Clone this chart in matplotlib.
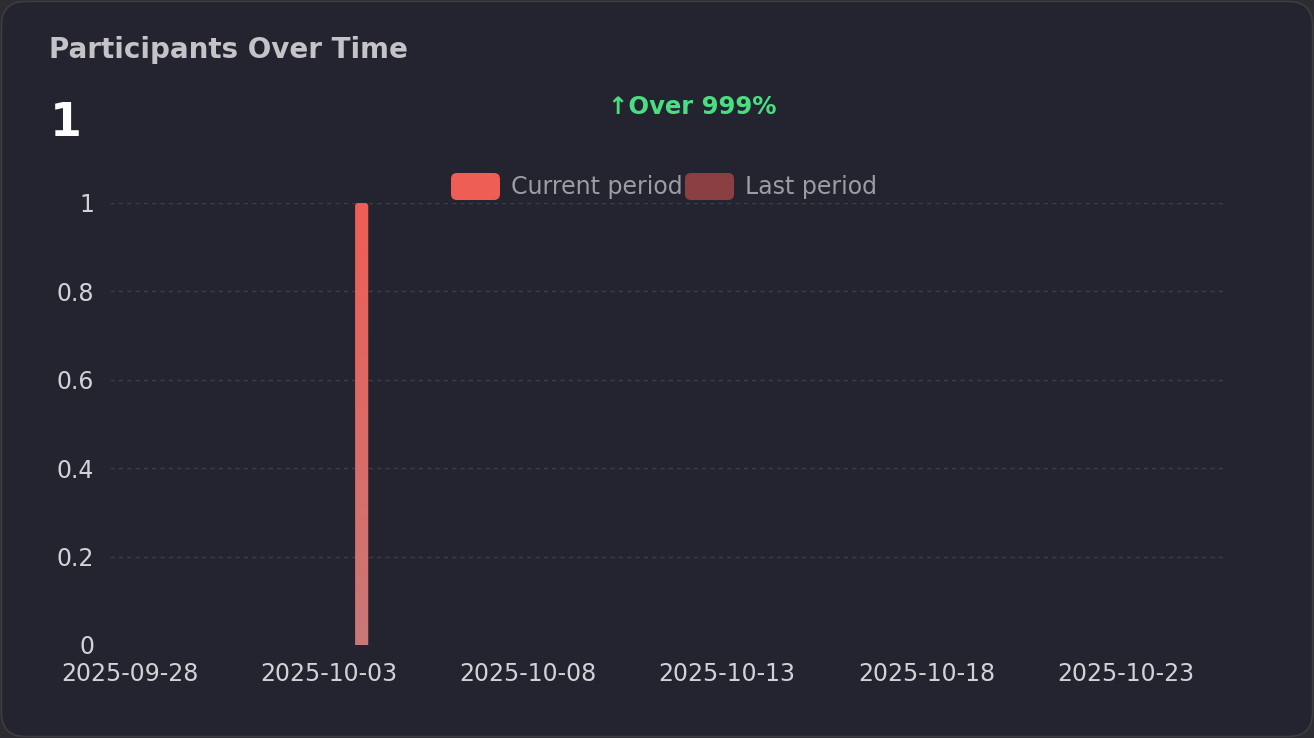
import numpy as np
import pandas as pd
import matplotlib
matplotlib.use('Agg')
import matplotlib.pyplot as plt
import matplotlib.dates as mdates
from matplotlib.patches import FancyBboxPatch

# datos
fechas = pd.date_range('2025-09-28', '2025-10-25', freq='D')
actual = [0, 0, 0, 0, 0, 0, 1] + [0] * 21
anterior = [0] * 28
ticks = pd.date_range('2025-09-28', '2025-10-23', freq='5D')
total = '1'
cambio = '\u2191Over 999%'

fondo = '#242431'
rojo = '#ef5e55'
rojo_osc = '#8a4043'
W, H = 1314, 738

fig = plt.figure(figsize=(W / 100, H / 100), dpi=100)
fig.patch.set_facecolor('#2c2c31')

# tarjeta redondeada
tarjeta = FancyBboxPatch((1.5, 1.5), W - 3, H - 3, boxstyle='round,pad=0,rounding_size=24',
                         transform=None, facecolor=fondo, edgecolor='#3c3c42', linewidth=1.2,
                         zorder=-10)
fig.add_artist(tarjeta)

ax = fig.add_axes([110 / W, 1 - 645 / H, 1115 / W, 442 / H])
ax.set_facecolor('none')

x = mdates.date2num(fechas)
ancho = 0.33
barras = ax.bar(x - 0.18, actual, ancho, color=rojo, zorder=3)
ax.bar(x + 0.18, anterior, ancho, color=rojo_osc, zorder=3)

# degradado con esquinas redondeadas arriba
grad = np.linspace(0, 1, 256).reshape(-1, 1)
cmap = matplotlib.colors.LinearSegmentedColormap.from_list('g', ['#c97878', rojo])
for b in barras:
    h = b.get_height()
    if h <= 0:
        continue
    bx, bw = b.get_x(), b.get_width()
    caja = FancyBboxPatch((bx, -0.02), bw, h + 0.02,
                          boxstyle='round,pad=0,rounding_size=0.075',
                          mutation_aspect=0.09, facecolor='none', edgecolor='none')
    ax.add_patch(caja)
    b.set_visible(False)
    im = ax.imshow(grad, extent=(bx, bx + bw, 0, h), origin='lower', cmap=cmap,
                   aspect='auto', zorder=3)
    im.set_clip_path(caja)

ax.set_xlim(mdates.date2num(pd.Timestamp('2025-09-27 12:00')),
            mdates.date2num(pd.Timestamp('2025-10-25 12:00')))
ax.set_ylim(0, 1)
ax.set_xticks(mdates.date2num(ticks))
ax.set_xticklabels([t.strftime('%Y-%m-%d') for t in ticks])
ax.set_yticks([0, 0.2, 0.4, 0.6, 0.8, 1])
ax.set_yticklabels(['0', '0.2', '0.4', '0.6', '0.8', '1'])
ax.tick_params(colors='#d2d2d6', labelsize=17, length=0)
ax.tick_params(axis='y', pad=11.5)
ax.tick_params(axis='x', pad=12.5)
ax.grid(axis='y', color='#3c3c4a', linestyle=(0, (3, 3)), linewidth=1, zorder=0)
for s in ax.spines.values():
    s.set_visible(False)

# textos
fig.text(49 / W, 1 - 50 / H, 'Participants Over Time', color='#c4c4c8', fontsize=20,
         fontweight='bold', va='center', ha='left')
fig.text(50 / W, 1 - 123 / H, total, color='white', fontsize=33, fontweight='bold',
         va='center', ha='left')
fig.text(692 / W, 1 - 107 / H, cambio, color='#4ade80', fontsize=17.5, fontweight='bold',
         va='center', ha='center')

# leyenda
for (x0, col, lab) in [(451, rojo, 'Current period'), (685, rojo_osc, 'Last period')]:
    p = FancyBboxPatch((x0, H - 200), 49, 27, boxstyle='round,pad=0,rounding_size=6',
                       transform=None, facecolor=col, edgecolor='none', zorder=2)
    fig.add_artist(p)
    fig.text((x0 + 60) / W, 1 - 187 / H, lab, color='#9c9ca2', fontsize=17,
             va='center', ha='left')

fig.savefig('out.png', dpi=100, facecolor=fig.get_facecolor())
